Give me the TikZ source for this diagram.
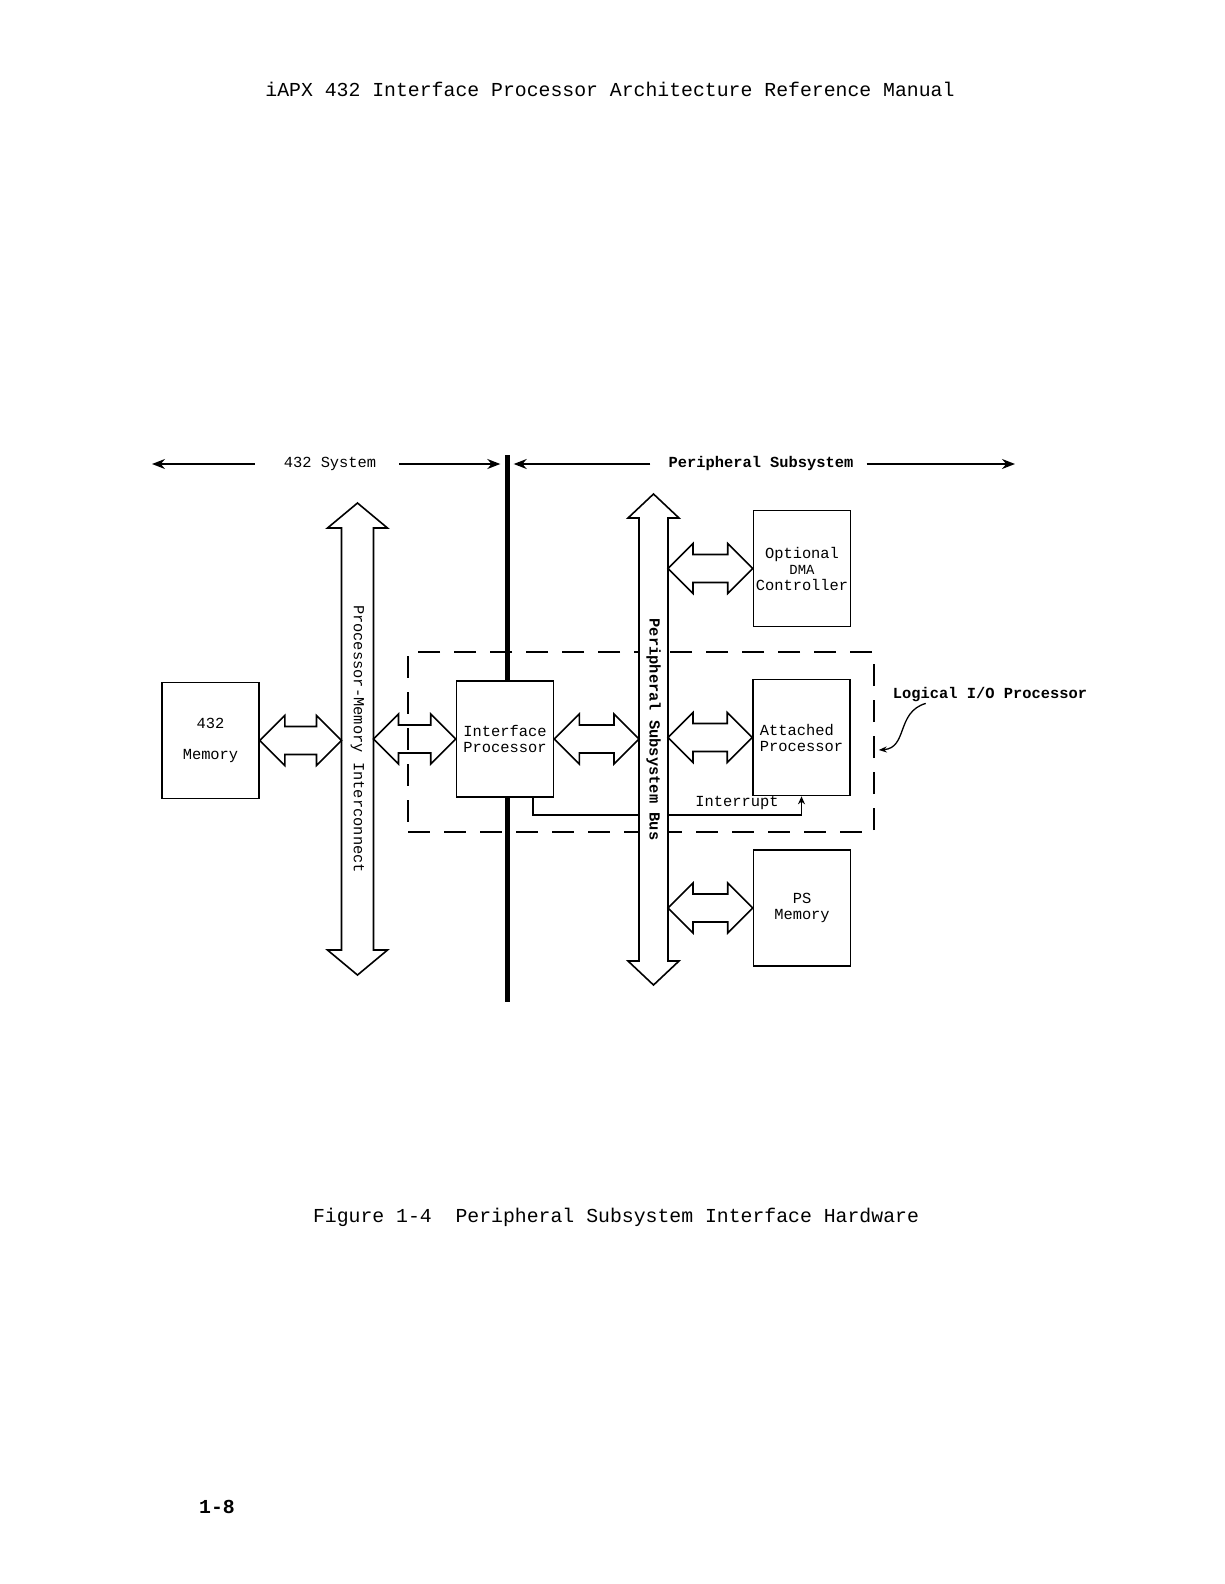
\documentclass[tikz,border=0pt]{standalone}
\usepackage{fontspec}
\usepackage{tikz}
\usetikzlibrary{arrows.meta,calc}
\newfontfamily\tw{Liberation Mono}
\newcommand{\dfont}{\tw\fontsize{15.4pt}{16pt}\selectfont}
\newcommand{\pgfont}{\tw\fontsize{19.8pt}{22pt}\selectfont}
\tikzset{
  blk/.style   = {rectangle, draw, line width=1.6pt, fill=white,
                  minimum width=97pt, minimum height=116pt,
                  inner sep=1pt, align=center, font=\dfont},
  shaft/.style = {rectangle, inner sep=0pt, outer sep=0pt},
  fat/.style   = {draw, line width=1.6pt, line join=miter},
  busfat/.style= {fat, fill=white},
  bar/.style   = {rectangle, fill=black, inner sep=0pt,
                  minimum width=5pt, minimum height=547pt},
  lio/.style   = {rectangle, draw, line width=1.6pt, inner sep=0pt,
                  dash pattern=on 22pt off 14pt,
                  minimum width=466pt, minimum height=180pt},
  hdr/.style   = {-{Stealth[length=13pt,width=10pt]}, line width=1.6pt},
  irq/.style   = {-{Stealth[length=8pt,width=7pt]}, line width=1.4pt},
  curly/.style = {-{Stealth[length=8pt,width=6pt]}, line width=1.3pt},
  lbl/.style   = {font=\dfont, inner sep=1pt},
  pg/.style    = {font=\pgfont, inner sep=1pt},
}
\newcommand{\hfat}[2]{\draw[fat] let \p1=(#1), \p2=(#2) in
  (\x1,\y1) -- (\x1+25pt,\y1+25pt) -- (\x1+25pt,\y1+14pt) --
  (\x2-25pt,\y1+14pt) -- (\x2-25pt,\y1+25pt) -- (\x2,\y1) --
  (\x2-25pt,\y1-25pt) -- (\x2-25pt,\y1-14pt) --
  (\x1+25pt,\y1-14pt) -- (\x1+25pt,\y1-25pt) -- cycle;}
\newcommand{\vfat}[3]{\draw[busfat] (#1.north west) --
  ([xshift=-#3pt]#1.north west) -- ([yshift=#2pt]#1.north) --
  ([xshift=#3pt]#1.north east) -- (#1.north east) -- (#1.south east) --
  ([xshift=#3pt]#1.south east) -- ([yshift=-#2pt]#1.south) --
  ([xshift=-#3pt]#1.south west) -- (#1.south west) -- cycle;}

\begin{document}
\begin{tikzpicture}[x=1pt,y=-1pt]
  \useasboundingbox (0,0) rectangle (1224,1584);
  \node[pg] (ttl) at (610,89)
    {iAPX 432 Interface Processor Architecture Reference Manual};

  \node[lio] (lio) at (641,742) {};
  \node[bar] (bar) at (507,728.5) {};

  \node[lbl] (sys) at (330,464) {432 System};
  \node[lbl, font=\dfont\bfseries] (pss) at (761,464) {Peripheral Subsystem};
  \coordinate (sysl) at (152,464);
  \coordinate (pssr) at (1015,464);
  \draw[hdr] ([xshift=-28pt]sys.west) -- (sysl);
  \draw[hdr, shorten >=4pt] ([xshift=22pt]sys.east) -- (sys.east -| bar.west);
  \draw[hdr, shorten >=4pt] ([xshift=-17pt]pss.west) -- (pss.west -| bar.east);
  \draw[hdr] ([xshift=12pt]pss.east) -- (pssr);

  \node[blk] (mem) at (210.5,740.5) {432\\[15pt]Memory};
  \node[blk] (ip)  at (505,739) {Interface\\Processor};
  \node[blk] (dma) at (802,568.5)
    {Optional\\{\fontsize{13.9pt}{16pt}\selectfont DMA}\\Controller};
  \node[blk, align=left] (att) at (801.5,737.5) {Attached\\Processor};
  \node[blk] (psm) at (802,908) {PS\\Memory};

  \draw[irq] ([xshift=28pt]ip.south) -- ++(0,17) -| (att.south);
  \node[lbl] (irqlbl) at (737,803) {Interrupt};

  % the two buses, drawn white over the crossing lines
  \node[shaft, minimum width=32pt, minimum height=422pt] (pmi) at (357.5,739) {};
  \node[shaft, minimum width=29pt, minimum height=443pt] (psb) at (653.5,739.5) {};
  \vfat{pmi}{25}{14}
  \vfat{psb}{24}{11}
  \node[lbl, rotate=-90] (pmilbl) at (pmi.center) {Processor-Memory Interconnect};
  \node[lbl, rotate=-90, font=\dfont\bfseries] (psblbl) at ([yshift=10pt]psb.center)
    {Peripheral Subsystem Bus};

  \hfat{mem.east}{mem.east -| pmi.west}
  \hfat{pmi.east |- ip.west}{ip.west}
  \hfat{ip.east}{ip.east -| psb.west}
  \hfat{psb.east |- dma.west}{dma.west}
  \hfat{psb.east |- att.west}{att.west}
  \hfat{psb.east |- psm.west}{psm.west}

  \node[lbl, font=\dfont\bfseries] (lioname) at (990,695) {Logical I/O Processor};
  \draw[curly] ([xshift=34pt]lioname.south west) .. controls (896,712) and (908,748)
    .. ([xshift=4pt,yshift=-8pt]lio.east);

  \node[pg] (cap) at (616,1217)
    {Figure 1-4\ \ Peripheral Subsystem Interface Hardware};
  \node[pg, font=\pgfont\bfseries] (pgno) at (217,1507) {1-8};
\end{tikzpicture}
\end{document}
